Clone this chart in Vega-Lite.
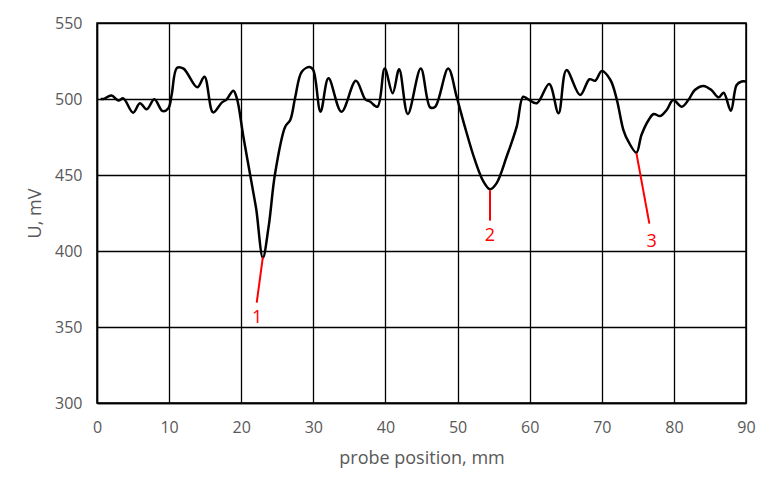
{
  "$schema": "https://vega.github.io/schema/vega-lite/v6.json",
  "width": 649,
  "height": 380,
  "autosize": {"type": "none"},
  "padding": {"left": 97, "top": 23, "right": 15, "bottom": 82},
  "background": "white",
  "config": {
    "view": {"stroke": "black", "strokeWidth": 1.5},
    "font": "Open Sans"
  },
  "datasets": {
    "curve": [
      {"x": 0.5, "u": 500}, {"x": 0.9, "u": 500}, {"x": 2.0, "u": 502.3}, {"x": 2.96, "u": 499}, {"x": 3.65, "u": 500.4},
      {"x": 5.0, "u": 491}, {"x": 5.96, "u": 497.2}, {"x": 6.9, "u": 493.2}, {"x": 7.95, "u": 499.8},
      {"x": 9.1, "u": 492}, {"x": 9.9, "u": 493.9}, {"x": 10.35, "u": 502.6}, {"x": 11.1, "u": 520.5},
      {"x": 12.0, "u": 520}, {"x": 13.9, "u": 507.7}, {"x": 14.9, "u": 514.7}, {"x": 16.1, "u": 491.2},
      {"x": 17.3, "u": 497.6}, {"x": 18.0, "u": 499.8}, {"x": 18.9, "u": 505.5}, {"x": 19.4, "u": 500.4},
      {"x": 20.3, "u": 475.2}, {"x": 21.7, "u": 437.9}, {"x": 22.1, "u": 427}, {"x": 23.0, "u": 395.5},
      {"x": 23.8, "u": 416}, {"x": 24.7, "u": 451.1}, {"x": 26.1, "u": 481.8}, {"x": 26.8, "u": 486.2},
      {"x": 27.5, "u": 501.5}, {"x": 28.4, "u": 518}, {"x": 29.5, "u": 521}, {"x": 30.0, "u": 519},
      {"x": 31.0, "u": 491.6}, {"x": 32.1, "u": 513.6}, {"x": 33.9, "u": 491.6}, {"x": 35.9, "u": 512},
      {"x": 37.2, "u": 499.8}, {"x": 37.9, "u": 498.2}, {"x": 38.9, "u": 494.9}, {"x": 39.9, "u": 520},
      {"x": 41.0, "u": 503.8}, {"x": 41.9, "u": 519.5}, {"x": 43.1, "u": 490.1}, {"x": 44.9, "u": 520},
      {"x": 46.2, "u": 494.5}, {"x": 46.9, "u": 494.9}, {"x": 48.7, "u": 520}, {"x": 49.9, "u": 501},
      {"x": 51.0, "u": 482}, {"x": 52.4, "u": 459.9}, {"x": 53.6, "u": 445.6}, {"x": 54.5, "u": 440.6},
      {"x": 55.4, "u": 444.5}, {"x": 56.8, "u": 462}, {"x": 58.2, "u": 481.8}, {"x": 59.1, "u": 501.5},
      {"x": 59.8, "u": 499.8}, {"x": 61.0, "u": 497.2}, {"x": 62.7, "u": 509.9}, {"x": 64.0, "u": 490.6},
      {"x": 65.1, "u": 519}, {"x": 67.0, "u": 502.6}, {"x": 68.3, "u": 513}, {"x": 69.1, "u": 512},
      {"x": 70.0, "u": 518.4}, {"x": 71.2, "u": 512.5}, {"x": 72.1, "u": 499.3}, {"x": 73.0, "u": 479.6},
      {"x": 73.7, "u": 471.9}, {"x": 74.8, "u": 464.7}, {"x": 75.5, "u": 476.3}, {"x": 76.5, "u": 486.2},
      {"x": 77.2, "u": 490.1}, {"x": 78.1, "u": 488.8}, {"x": 79.0, "u": 492.8}, {"x": 79.9, "u": 499.3},
      {"x": 81.1, "u": 494.9}, {"x": 82.0, "u": 499.3}, {"x": 82.9, "u": 505.9}, {"x": 84.1, "u": 508.6},
      {"x": 85.2, "u": 505.9}, {"x": 86.2, "u": 501.1}, {"x": 86.9, "u": 504.1}, {"x": 87.9, "u": 492.3},
      {"x": 88.7, "u": 509.2}, {"x": 89.4, "u": 511.5}, {"x": 90, "u": 511.5}
    ],
    "marks": [
      {"label": "1", "x": 23.0, "u": 396, "x2": 22.15, "u2": 366, "lx": 22.2, "lu": 356},
      {"label": "2", "x": 54.5, "u": 440, "x2": 54.5, "u2": 420, "lx": 54.5, "lu": 410},
      {"label": "3", "x": 74.8, "u": 464.5, "x2": 76.6, "u2": 418, "lx": 76.9, "lu": 406}
    ]
  },
  "layer": [
    {
      "data": {"name": "curve"},
      "mark": {"type": "line", "color": "black", "strokeWidth": 2.5, "interpolate": "catmull-rom"},
      "encoding": {
        "x": {
          "field": "x", "type": "quantitative",
          "scale": {"domain": [0, 90], "nice": false},
          "axis": {
            "title": "probe position, mm", "values": [0,10,20,30,40,50,60,70,80,90],
            "grid": true, "gridColor": "black", "gridOpacity": 1, "gridWidth": 1.3,
            "domainColor": "black", "domainWidth": 1.5, "ticks": false, "labelFlush": false,
            "labelPadding": 16, "labelFontSize": 16, "labelColor": "#595959",
            "titleFontSize": 18, "titleFontWeight": "normal", "titleColor": "#595959", "titlePadding": 14
          }
        },
        "y": {
          "field": "u", "type": "quantitative",
          "scale": {"domain": [300, 550], "nice": false, "zero": false},
          "axis": {
            "title": "U, mV", "values": [300,350,400,450,500,550],
            "grid": true, "gridColor": "black", "gridOpacity": 1, "gridWidth": 1.3,
            "domainColor": "black", "domainWidth": 1.5, "ticks": false, "labelFlush": false,
            "labelPadding": 15, "labelFontSize": 16, "labelColor": "#595959",
            "titleFontSize": 18, "titleFontWeight": "normal", "titleColor": "#595959", "titlePadding": 10
          }
        }
      }
    },
    {
      "data": {"name": "marks"},
      "mark": {"type": "rule", "color": "red", "strokeWidth": 2},
      "encoding": {
        "x": {"field": "x", "type": "quantitative"},
        "y": {"field": "u", "type": "quantitative"},
        "x2": {"field": "x2"},
        "y2": {"field": "u2"}
      }
    },
    {
      "data": {"name": "marks"},
      "mark": {"type": "text", "color": "red", "fontSize": 18, "align": "center", "baseline": "middle"},
      "encoding": {
        "x": {"field": "lx", "type": "quantitative"},
        "y": {"field": "lu", "type": "quantitative"},
        "text": {"field": "label"}
      }
    }
  ]
}
